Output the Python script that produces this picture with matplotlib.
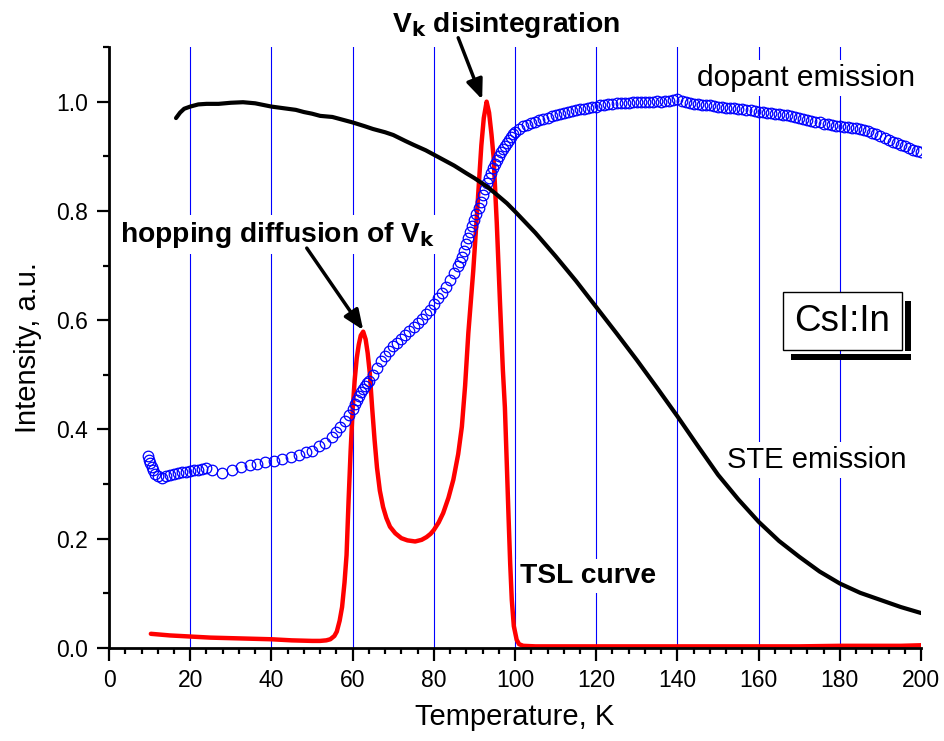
import matplotlib
matplotlib.use('Agg')
import matplotlib.pyplot as plt
from matplotlib.patches import Rectangle
from matplotlib.ticker import MultipleLocator, FormatStrFormatter

plt.rcParams['font.family'] = ['Liberation Sans', 'DejaVu Sans']

# ---------------- data ----------------
# STE emission (black line)
ste_T = [16.5, 17.5, 18.5, 20, 22, 24, 27, 30, 33, 36, 40, 43, 46, 48, 50, 52, 55,
         58, 60, 63, 65, 68, 70, 73, 75, 78, 80, 83, 85, 88, 90, 93, 95, 98, 100,
         105, 110, 115, 120, 125, 130, 135, 140, 145, 150, 155, 160, 165, 170,
         175, 180, 185, 190, 195, 200]
ste_I = [0.970, 0.980, 0.987, 0.991, 0.995, 0.996, 0.996, 0.998, 0.999, 0.997,
         0.991, 0.988, 0.985, 0.981, 0.978, 0.974, 0.972, 0.966, 0.962, 0.955,
         0.950, 0.944, 0.939, 0.928, 0.921, 0.911, 0.903, 0.891, 0.883, 0.869,
         0.860, 0.845, 0.833, 0.814, 0.799, 0.760, 0.717, 0.672, 0.624, 0.576,
         0.527, 0.476, 0.424, 0.370, 0.317, 0.272, 0.231, 0.196, 0.167, 0.140,
         0.118, 0.101, 0.088, 0.075, 0.064]

# TSL curve (red line)
tsl_T = [10.3, 15, 20, 25, 30, 35, 40, 45, 50, 52, 53.5, 54.5, 55.5, 56.1, 56.8,
         57.4, 58, 58.5, 59, 59.5, 60, 60.5, 61, 61.5, 62, 62.6, 63.2, 63.7, 64.2,
         64.8, 65.4, 66, 66.7, 67.5, 68.3, 69.2, 70.5, 72, 73.5, 75.4, 77, 78.2,
         79.2, 80, 81.2, 82.3, 83.6, 84.8, 86, 86.9, 87.7, 88.5, 89.7, 90.5, 91.1,
         91.7, 92.3, 93, 93.6, 94.2, 94.7, 95.5, 96.3, 97, 97.5, 98, 98.4, 98.8,
         99.2, 99.7, 100.4, 101, 102, 105, 110, 120, 130, 140, 150, 160, 170, 180,
         190, 195, 200]
tsl_I = [0.026, 0.023, 0.021, 0.019, 0.018, 0.017, 0.016, 0.014, 0.013, 0.013,
         0.014, 0.016, 0.022, 0.030, 0.050, 0.075, 0.12, 0.17, 0.27, 0.36, 0.436,
         0.49, 0.53, 0.555, 0.572, 0.579, 0.565, 0.540, 0.505, 0.44, 0.381, 0.33,
         0.288, 0.258, 0.238, 0.222, 0.210, 0.201, 0.197, 0.195, 0.198, 0.203,
         0.209, 0.216, 0.23, 0.247, 0.275, 0.308, 0.355, 0.405, 0.48, 0.577, 0.69,
         0.78, 0.851, 0.92, 0.97, 1.0, 0.98, 0.94, 0.90, 0.778, 0.631, 0.509, 0.44,
         0.33, 0.24, 0.155, 0.088, 0.04, 0.015, 0.007, 0.004, 0.003, 0.003, 0.003,
         0.003, 0.003, 0.003, 0.003, 0.003, 0.004, 0.004, 0.004, 0.005]

# dopant emission (blue open circles)
dop_T = [9.7, 9.9, 10.2, 10.5, 10.9, 11.4, 12.1, 13, 14, 15, 16, 17, 18, 19, 20,
         21, 22, 23, 24, 25.4, 27.9, 30.3, 32.6, 34.6, 36.4, 38.3, 40.7, 42.7,
         44.7, 46.7, 48.4, 50, 51.7, 53.3, 54.9, 56, 57, 58, 59, 60, 60.5, 61,
         61.5, 62, 62.5, 63, 63.5, 64, 65, 66, 67, 68, 69, 70, 71, 72, 73, 74,
         75, 76, 77, 78, 79, 80, 81, 82, 83, 84, 85, 86, 86.5, 87, 87.5, 88,
         88.5, 89, 89.5, 90, 90.5, 91, 91.5, 92, 92.5, 93, 93.5, 94, 94.5, 95,
         95.5, 96, 96.5, 97, 97.5, 98, 98.5, 99, 99.5,
         100, 101, 102, 103, 104, 105, 106, 107, 108, 109, 110, 111, 112,
         113, 114, 115, 116, 117, 118, 119, 120, 121, 122, 123, 124, 125, 126,
         127, 128, 129, 130, 131, 132, 133, 134, 135, 136, 137, 138, 139, 140,
         141, 142, 143, 144, 145, 146, 147, 148, 149, 150, 151, 152, 153, 154,
         155, 156, 157, 158, 159, 160, 161, 162, 163, 164, 165, 166, 167, 168,
         169, 170, 171, 172, 173, 174, 175, 176, 177, 178, 179, 180, 181, 182,
         183, 184, 185, 186, 187, 188, 189, 190, 191, 192, 193, 194, 195, 196,
         197, 198, 199, 200]
dop_I = [0.351, 0.345, 0.338, 0.332, 0.325, 0.318, 0.314, 0.312, 0.314, 0.316,
         0.318, 0.320, 0.322, 0.323, 0.324, 0.325, 0.326, 0.327, 0.329, 0.326,
         0.321, 0.326, 0.332, 0.335, 0.337, 0.340, 0.343, 0.346, 0.350, 0.353,
         0.358, 0.361, 0.369, 0.376, 0.387, 0.396, 0.405, 0.416, 0.426, 0.437,
         0.446, 0.454, 0.461, 0.468, 0.474, 0.480, 0.485, 0.489, 0.500, 0.513,
         0.525, 0.535, 0.544, 0.552, 0.559, 0.566, 0.573, 0.580, 0.588, 0.595,
         0.603, 0.611, 0.619, 0.630, 0.640, 0.650, 0.661, 0.674, 0.686, 0.699,
         0.706, 0.715, 0.727, 0.739, 0.750, 0.761, 0.772, 0.784, 0.795, 0.806,
         0.817, 0.829, 0.840, 0.851, 0.860, 0.869, 0.878, 0.886, 0.894, 0.901,
         0.908, 0.914, 0.919, 0.924, 0.930, 0.936, 0.940,
         0.944, 0.950, 0.955, 0.958, 0.961, 0.963, 0.966, 0.968, 0.971, 0.973,
         0.975, 0.977, 0.979, 0.981, 0.983, 0.985, 0.986, 0.987, 0.989, 0.990,
         0.991, 0.993, 0.994, 0.995, 0.996, 0.997, 0.997, 0.998, 0.998, 0.999,
         0.999, 1.000, 1.000, 1.000, 0.999, 1.001, 1.000, 1.001, 1.002, 1.003,
         1.005, 1.002, 0.999, 0.997, 0.996, 0.995, 0.994, 0.993, 0.993, 0.992,
         0.991, 0.990, 0.989, 0.988, 0.988, 0.987, 0.986, 0.985, 0.984, 0.983,
         0.982, 0.981, 0.980, 0.979, 0.978, 0.977, 0.976, 0.975, 0.974, 0.972,
         0.970, 0.968, 0.966, 0.965, 0.963, 0.962, 0.960, 0.959, 0.958, 0.956,
         0.955, 0.954, 0.953, 0.952, 0.951, 0.950, 0.949, 0.946, 0.943, 0.940,
         0.937, 0.934, 0.930, 0.927, 0.924, 0.921, 0.918, 0.915, 0.912, 0.910,
         0.908]

grid_T = [20, 40, 60, 80, 100, 120, 140, 160, 180]

# ---------------- figure ----------------
fig = plt.figure(figsize=(9.44, 7.41), dpi=100)
ax = fig.add_axes([0.1155, 0.1255, 0.8602, 0.8111])

for t in grid_T:
    ax.axvline(t, color='#0000ff', lw=0.8, zorder=0)

ax.plot(tsl_T, tsl_I, color='#ff0000', lw=3.2, zorder=2, solid_capstyle='round')
ax.plot(dop_T, dop_I, ls='none', marker='o', ms=7.6, mfc='none',
        mec='#0000ff', mew=0.9, zorder=3)
ax.plot(ste_T, ste_I, color='black', lw=3.0, zorder=4, solid_capstyle='round')

ax.set_xlim(0, 200)
ax.set_ylim(0, 1.1001)
ax.xaxis.set_major_locator(MultipleLocator(20))
ax.xaxis.set_minor_locator(MultipleLocator(4))
ax.yaxis.set_major_locator(MultipleLocator(0.2))
ax.yaxis.set_minor_locator(MultipleLocator(0.1))
ax.yaxis.set_major_formatter(FormatStrFormatter('%.1f'))
ax.tick_params(which='major', direction='out', length=9, width=1.6,
               labelsize=16.5, pad=6)
ax.tick_params(which='minor', direction='out', length=4.5, width=1.6)
for s in ['top', 'right']:
    ax.spines[s].set_visible(False)
for s in ['left', 'bottom']:
    ax.spines[s].set_linewidth(2)

ax.set_xlabel('Temperature, K', fontsize=21, labelpad=8)
ax.set_ylabel('Intensity, a.u.', fontsize=21, labelpad=10)

wb = dict(facecolor='white', edgecolor='none', pad=3)
ax.text(144.8, 1.029, 'dopant emission', fontsize=21.5, ha='left',
        va='baseline', bbox=wb, zorder=1.5)
ax.text(152.1, 0.330, 'STE emission', fontsize=21, ha='left',
        va='baseline', bbox=wb, zorder=1.5)
ax.text(101.2, 0.119, 'TSL curve', fontsize=20.3, fontweight='bold',
        ha='left', va='baseline', bbox=wb, zorder=1.5)
ax.text(2.7, 0.744, r'hopping diffusion of V$_\mathbf{k}$', fontsize=20.3,
        fontweight='bold', ha='left', va='baseline', bbox=wb, zorder=1.5)
ax.text(69.7, 1.128, r'V$_\mathbf{k}$ disintegration', fontsize=20.3,
        fontweight='bold', ha='left', va='baseline', zorder=6, clip_on=False)

arrow = dict(arrowstyle='-|>,head_length=0.6,head_width=0.25', lw=2.5,
             color='black', mutation_scale=20, shrinkA=0, shrinkB=0)
ax.annotate('', xy=(62.6, 0.582), xytext=(48.7, 0.732), arrowprops=arrow,
            zorder=6)
ax.annotate('', xy=(91.9, 1.004), xytext=(86.0, 1.117), arrowprops=arrow,
            zorder=6, annotation_clip=False)

# CsI:In label box with shadow
ax.add_patch(Rectangle((165.9, 0.545), 195.2 - 165.9, 0.651 - 0.545,
                       facecolor='white', edgecolor='black', lw=1.0,
                       zorder=5, clip_on=False))
ax.add_patch(Rectangle((196.1, 0.544), 1.5, 0.636 - 0.544,
                       facecolor='black', edgecolor='none', zorder=5,
                       clip_on=False))
ax.add_patch(Rectangle((167.9, 0.528), 197.6 - 167.9, 0.011,
                       facecolor='black', edgecolor='none', zorder=5,
                       clip_on=False))
ax.text(180.55, 0.598, 'CsI:In', fontsize=26.5, ha='center', va='center',
        zorder=6)

fig.savefig('out.png', dpi=100)
